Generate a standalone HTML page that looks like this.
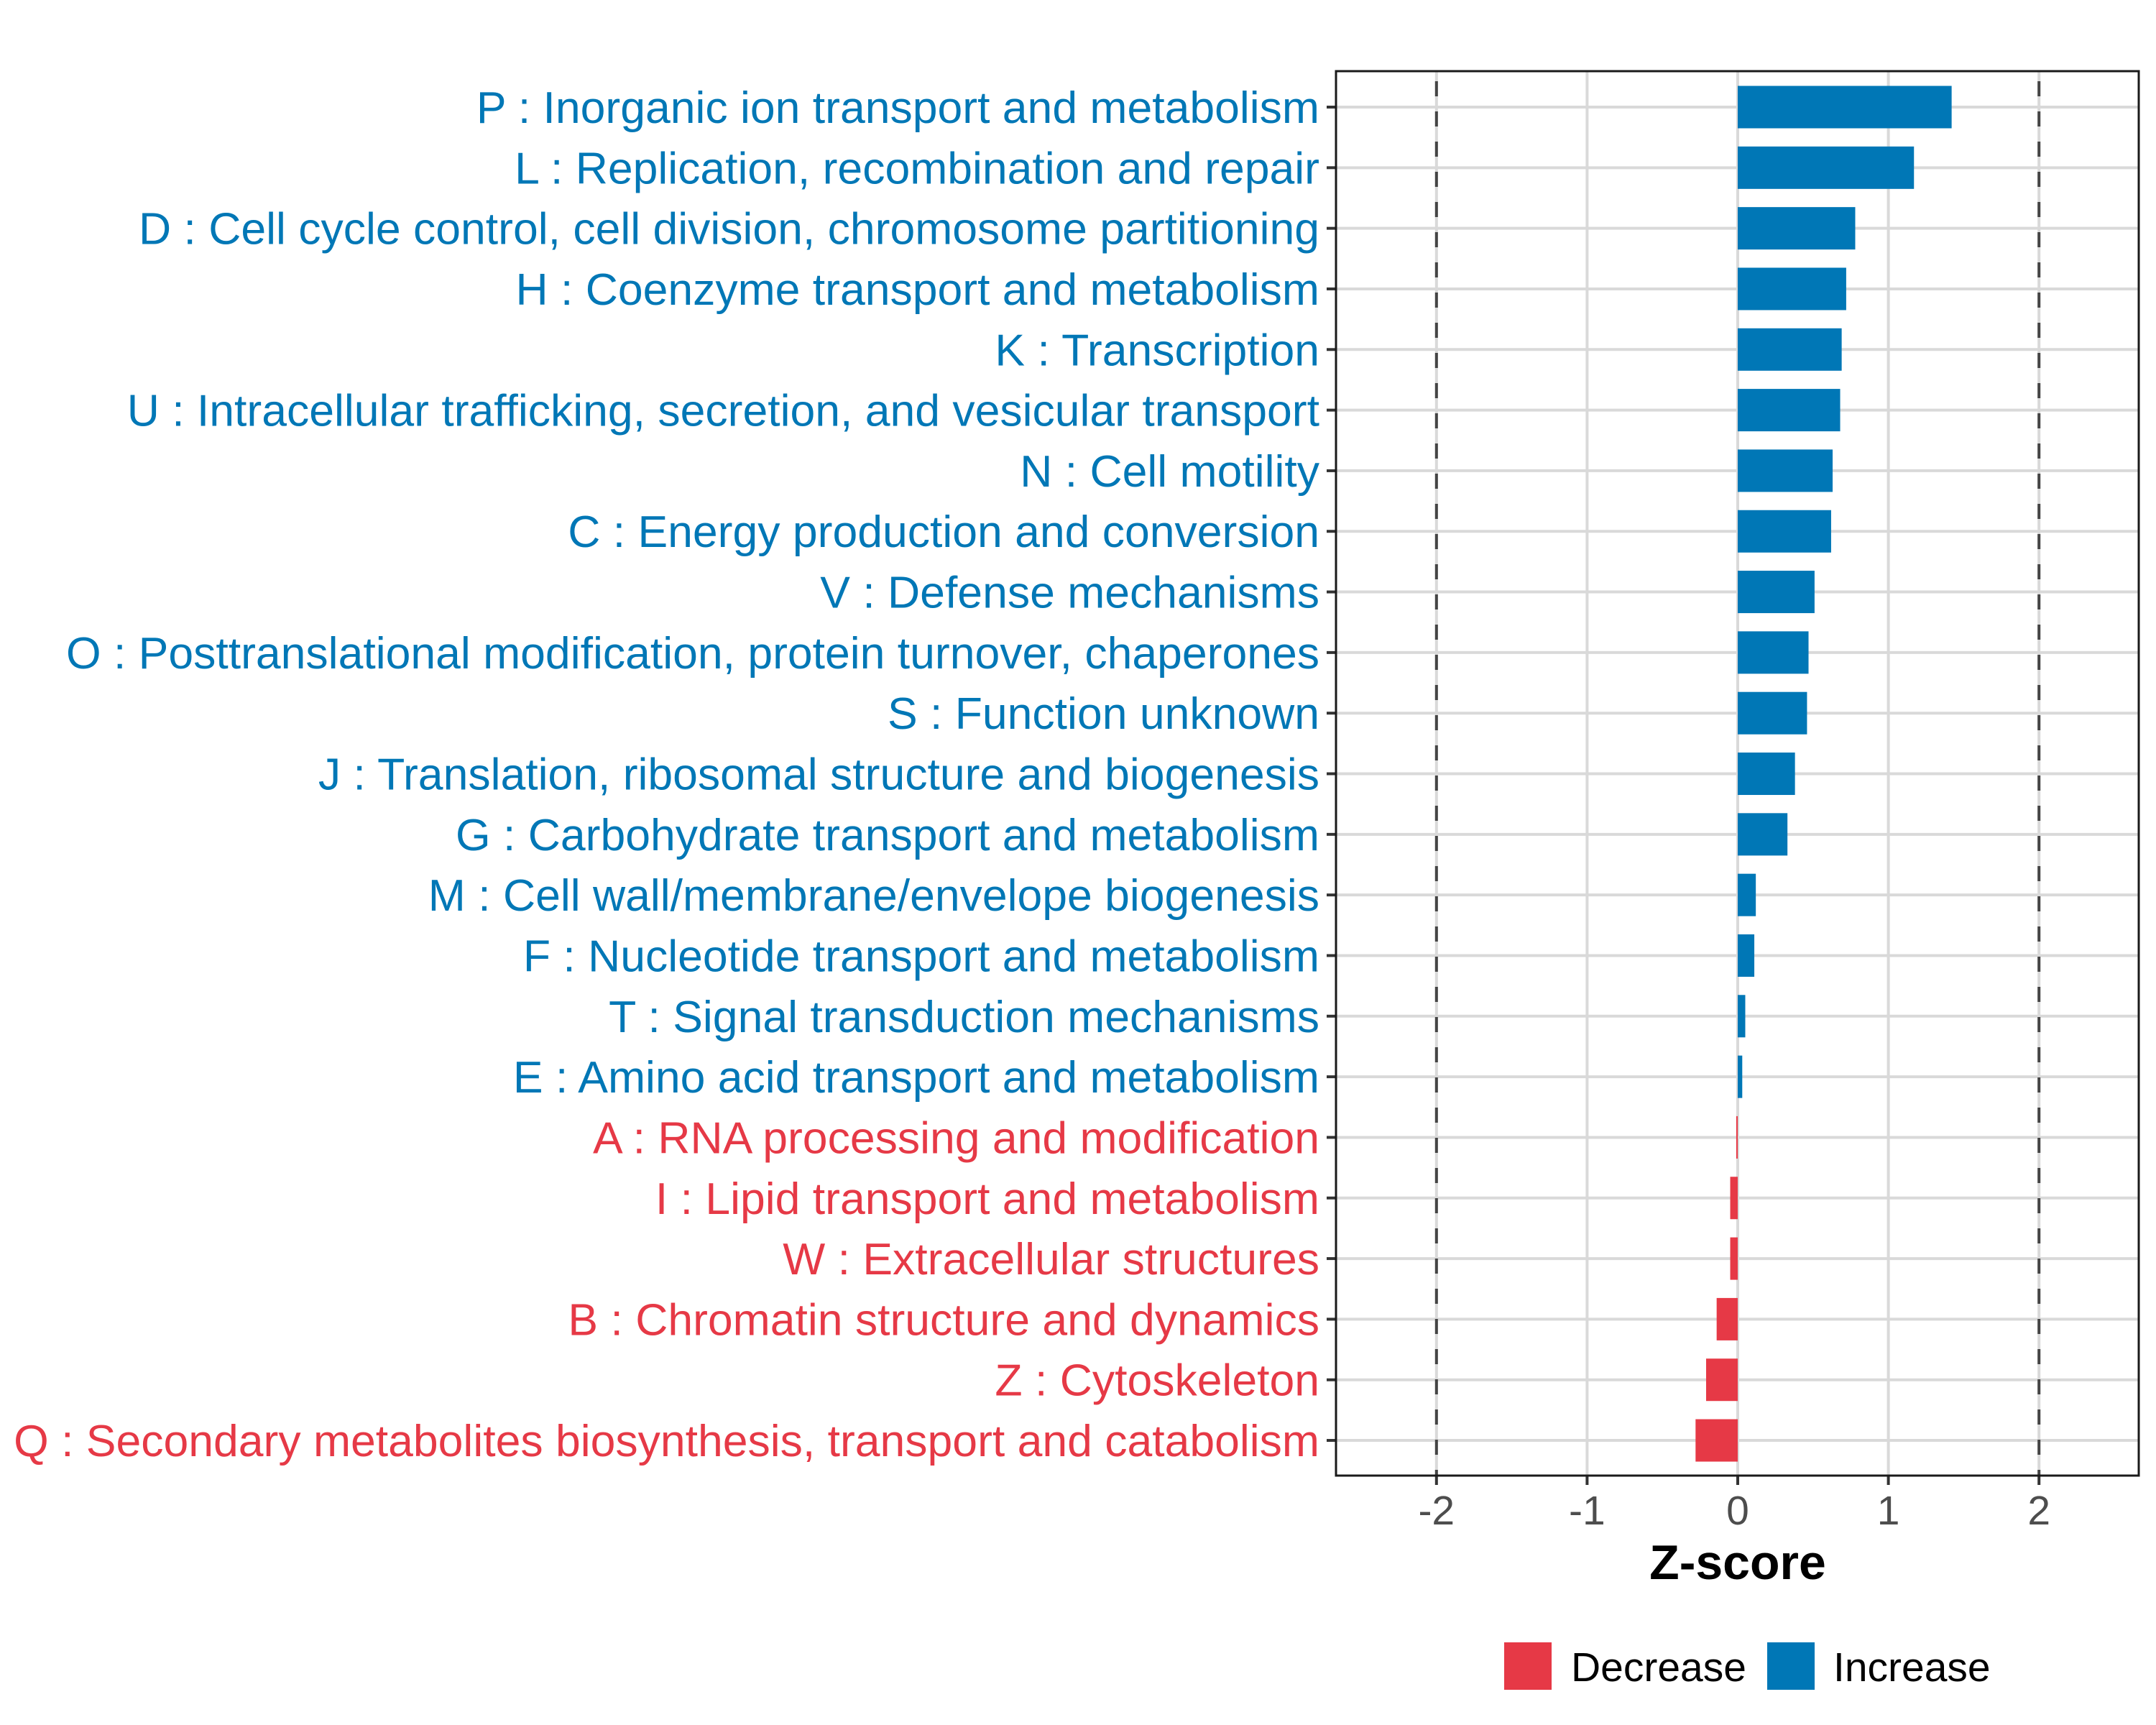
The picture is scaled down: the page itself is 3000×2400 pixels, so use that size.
<!DOCTYPE html>
<html><head><meta charset="utf-8"><style>
html,body{margin:0;padding:0;background:#fff;}
svg{display:block;font-family:"Liberation Sans",Arial,sans-serif;}
</style></head><body>
<svg id="chart" width="3000" height="2400" viewBox="0 0 3000 2400" xmlns="http://www.w3.org/2000/svg">
<rect x="0" y="0" width="3000" height="2400" fill="#fff"/>
<g id="grid"></g>
<g id="bars"></g>
<g id="ylabels"></g>
<g id="xaxis"></g>
<rect x="1859" y="99" width="1117" height="1954" fill="none" stroke="#1a1a1a" stroke-width="3"/>
<text x="2418" y="2197" text-anchor="middle" font-size="68" font-weight="bold" fill="#000">Z-score</text>
<g>
<rect x="2093" y="2285" width="66" height="66" fill="#E63946"/>
<text x="2186" y="2339" font-size="57" fill="#000">Decrease</text>
<rect x="2459" y="2285" width="66" height="66" fill="#0077B6"/>
<text x="2551" y="2339" font-size="57" fill="#000">Increase</text>
</g>
</svg>
<script>
const categories = ["P : Inorganic ion transport and metabolism","L : Replication, recombination and repair","D : Cell cycle control, cell division, chromosome partitioning","H : Coenzyme transport and metabolism","K : Transcription","U : Intracellular trafficking, secretion, and vesicular transport","N : Cell motility","C : Energy production and conversion","V : Defense mechanisms","O : Posttranslational modification, protein turnover, chaperones","S : Function unknown","J : Translation, ribosomal structure and biogenesis","G : Carbohydrate transport and metabolism","M : Cell wall/membrane/envelope biogenesis","F : Nucleotide transport and metabolism","T : Signal transduction mechanisms","E : Amino acid transport and metabolism","A : RNA processing and modification","I : Lipid transport and metabolism","W : Extracellular structures","B : Chromatin structure and dynamics","Z : Cytoskeleton","Q : Secondary metabolites biosynthesis, transport and catabolism"];
const zscores = [1.42,1.17,0.78,0.72,0.69,0.68,0.63,0.62,0.51,0.47,0.46,0.38,0.33,0.12,0.11,0.05,0.03,-0.01,-0.05,-0.05,-0.14,-0.21,-0.28];
const xTicks = [-2,-1,0,1,2];
const xTickLabels = ["-2","-1","0","1","2"];
const thresholds = [-2,2];

const NS="http://www.w3.org/2000/svg";
const BLUE="#0077B6", RED="#E63946";
const x = v => 2418 + v*209.6;
const y = i => 149 + i*84.32;
const bandH = 59;
function mk(tag, attrs, parent){const e=document.createElementNS(NS,tag);for(const k in attrs)e.setAttribute(k,attrs[k]);parent.appendChild(e);return e;}
const grid=document.getElementById('grid'), bars=document.getElementById('bars'), yl=document.getElementById('ylabels'), xa=document.getElementById('xaxis');

xTicks.forEach((t,i)=>{
  const l=mk('line',{x1:x(t),x2:x(t),y1:99,y2:2053,stroke:'#d9d9d9','stroke-width':4},grid);
  
  
  const tk=mk('line',{x1:x(t),x2:x(t),y1:2053,y2:2066,stroke:'#333','stroke-width':4},xa);
  
  
  const tx=mk('text',{x:x(t),y:2121,'text-anchor':'middle','font-size':57,fill:'#4d4d4d'},xa);
  tx.textContent=xTickLabels[i];
  
  
});
categories.forEach((c,i)=>{
  const l=mk('line',{x1:1859,x2:2976,y1:y(i),y2:y(i),stroke:'#d9d9d9','stroke-width':4},grid);
  
  
});
thresholds.forEach(t=>{
  const l=mk('line',{x1:x(t),x2:x(t),y1:99,y2:2053,stroke:'#444','stroke-width':4,'stroke-dasharray':'21 21','stroke-dashoffset':'-14'},grid);
  
  
});
categories.forEach((c,i)=>{
  const v=zscores[i], col=v>=0?BLUE:RED;
  const r=mk('rect',{x:Math.min(x(0),x(v)),y:y(i)-bandH/2,width:Math.max(Math.abs(x(v)-x(0)),1),height:bandH,fill:col},bars);
  
  
  const tk=mk('line',{x1:1846,x2:1859,y1:y(i),y2:y(i),stroke:'#333','stroke-width':4},yl);
  
  
  const t=mk('text',{x:1836,y:y(i)+22,'text-anchor':'end','font-size':62.5,fill:col},yl);
  t.textContent=c;
  
  
});
</script>
</body></html>
